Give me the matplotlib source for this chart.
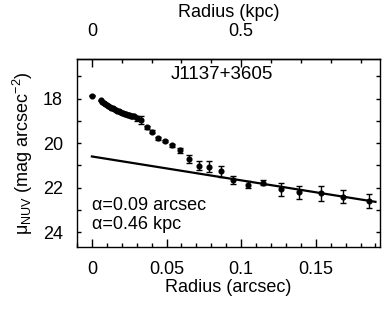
import numpy as np
import matplotlib
matplotlib.use("Agg")
import matplotlib.pyplot as plt
from matplotlib.ticker import MultipleLocator

plt.rcParams['font.family'] = ['Liberation Sans', 'DejaVu Sans']
plt.rcParams['mathtext.fontset'] = 'custom'
plt.rcParams['mathtext.rm'] = 'Liberation Sans'
plt.rcParams['mathtext.default'] = 'regular'
plt.rcParams['font.size'] = 13

# surface brightness profile (radius in arcsec, mu in mag arcsec^-2)
radius = [0.0, 0.006, 0.007, 0.008, 0.009, 0.010, 0.011, 0.012, 0.013, 0.014,
          0.015, 0.016, 0.017, 0.018, 0.019, 0.020, 0.021, 0.022, 0.023, 0.024,
          0.025, 0.026, 0.027, 0.028, 0.0303, 0.033, 0.0368, 0.0404, 0.0444,
          0.0491, 0.0538, 0.0591, 0.0648, 0.0715, 0.0786, 0.0864, 0.0948,
          0.1045, 0.1149, 0.1264, 0.1387, 0.1534, 0.1681, 0.1855]
mu = [17.87, 18.08, 18.13, 18.18, 18.22, 18.27, 18.32, 18.36, 18.40, 18.44,
      18.47, 18.51, 18.54, 18.57, 18.60, 18.63, 18.65, 18.68, 18.70, 18.72,
      18.74, 18.76, 18.78, 18.80, 18.88, 18.98, 19.29, 19.49, 19.79,
      19.92, 20.10, 20.33, 20.71, 21.01, 21.06, 21.26, 21.64,
      21.87, 21.78, 22.08, 22.22, 22.26, 22.41, 22.61]
mu_err = [0.02, 0.02, 0.02, 0.02, 0.02, 0.02, 0.02, 0.03, 0.03, 0.03,
          0.03, 0.03, 0.04, 0.04, 0.04, 0.05, 0.05, 0.05, 0.06, 0.06,
          0.07, 0.07, 0.08, 0.08, 0.12, 0.18, 0.06, 0.06, 0.05,
          0.05, 0.08, 0.12, 0.18, 0.22, 0.25, 0.25, 0.18,
          0.15, 0.12, 0.28, 0.28, 0.32, 0.28, 0.32]

# exponential disk fit
fit_r = [0.0, 0.19]
fit_mu = [20.60, 22.64]

kpc_per_arcsec = 5.0

fig = plt.figure(figsize=(3.83, 3.14), dpi=100)
ax = fig.add_axes([0.201, 0.2134, 0.791, 0.5986])

ax.errorbar(radius, mu, yerr=mu_err, fmt='o', color='black', ms=3.4,
            elinewidth=1.0, capsize=2.5, capthick=1.0)
ax.plot(fit_r, fit_mu, color='black', lw=1.6)

ax.set_xlim(-0.01, 0.193)
ax.set_ylim(24.67, 16.22)

ax.xaxis.set_major_locator(MultipleLocator(0.05))
ax.xaxis.set_minor_locator(MultipleLocator(0.01))
ax.yaxis.set_major_locator(MultipleLocator(2))
ax.yaxis.set_minor_locator(MultipleLocator(1))
ax.set_xticks([0, 0.05, 0.1, 0.15])
ax.set_xticklabels(['0', '0.05', '0.1', '0.15'])

ax.tick_params(axis='x', which='both', direction='in', top=False, bottom=True, pad=10)
ax.tick_params(axis='y', which='both', direction='in', left=True, right=True, pad=10)
ax.tick_params(which='major', length=5.5, width=1.0)
ax.tick_params(which='minor', length=3.2, width=1.0)
ax.tick_params(axis='y', which='major', length=3.2)
for s in ax.spines.values():
    s.set_linewidth(1.0)

ax.set_xlabel('Radius (arcsec)', labelpad=1)
ax.set_ylabel(r'μ$_{NUV}$ (mag arcsec$^{-2}$)', labelpad=6)

top = ax.secondary_xaxis('top', functions=(lambda r: r * kpc_per_arcsec,
                                           lambda k: k / kpc_per_arcsec))
top.xaxis.set_major_locator(MultipleLocator(0.5))
top.xaxis.set_minor_locator(MultipleLocator(0.1))
top.set_xticks([0, 0.5])
top.set_xticklabels(['0', '0.5'])
top.tick_params(which='both', direction='in', pad=14)
top.tick_params(which='major', length=5.5, width=1.0)
top.tick_params(which='minor', length=3.2, width=1.0)
top.spines['top'].set_linewidth(1.0)
top.set_xlabel('Radius (kpc)', labelpad=4)

ax.text(0.478, 0.92, 'J1137+3605', transform=ax.transAxes, ha='center', va='center',
        fontsize=13.5)
ax.text(0.05, 0.22, 'α=0.09 arcsec', transform=ax.transAxes, ha='left', va='center')
ax.text(0.05, 0.12, 'α=0.46 kpc', transform=ax.transAxes, ha='left', va='center')

fig.savefig('out.png', dpi=100)
